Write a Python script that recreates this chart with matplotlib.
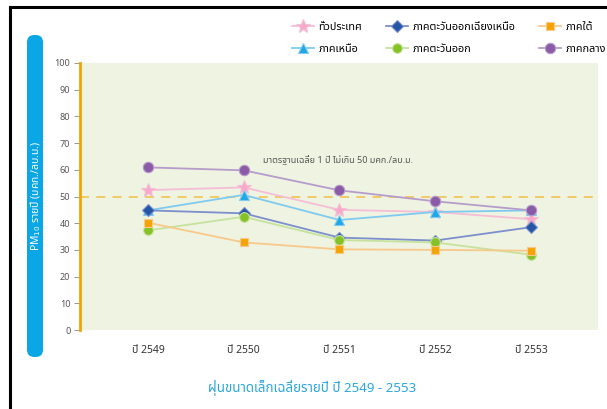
import numpy as np
import matplotlib
matplotlib.use('Agg')
import matplotlib.pyplot as plt
from matplotlib.patches import FancyBboxPatch
from matplotlib.lines import Line2D

plt.rcParams['font.family'] = ['Noto Sans Thai', 'DejaVu Sans']

years = ['ปี 2549', 'ปี 2550', 'ปี 2551', 'ปี 2552', 'ปี 2553']

# PM10 รายปี (มคก./ลบ.ม.)
whole_country = [52.4, 53.4, 45.0, 44.2, 41.5]
north = [44.8, 50.6, 41.2, 44.2, 44.8]
northeast = [44.8, 43.7, 34.6, 33.5, 38.5]
east = [37.3, 42.4, 33.7, 32.8, 28.2]
south = [40.2, 32.8, 30.2, 30.0, 29.7]
central = [60.9, 59.8, 52.3, 48.2, 44.8]

labels = ['ทั่วประเทศ', 'ภาคเหนือ', 'ภาคตะวันออกเฉียงเหนือ',
          'ภาคตะวันออก', 'ภาคใต้', 'ภาคกลาง']
standard = 50

series = [whole_country, north, northeast, east, south, central]
markers = ['*', '^', 'D', 'o', 's', 'o']
marker_colors = ['#f7a9c9', '#1fa8e6', '#2456a6', '#84c225', '#f4a300', '#8b5ba8']
line_colors = ['#f6bdd6', '#7fcaf0', '#7c8fcc', '#c6e29e', '#f7c98a', '#b59ccb']
marker_sizes = [10, 7, 6, 7, 6, 7.5]

fig = plt.figure(figsize=(6.07, 4.09), dpi=100)
ax = fig.add_axes([80/607, 1 - 330/409, 518/607, 267/409])
ax.set_facecolor('#eff3e1')

x = np.arange(len(years))
for vals, m, mc, lc, ms, lab in zip(series, markers, marker_colors, line_colors, marker_sizes, labels):
    ax.plot(x, vals, color=lc, lw=1.3, marker=m, markersize=ms,
            markerfacecolor=mc, markeredgecolor=lc, markeredgewidth=0.8, label=lab)

ax.axhline(standard, color='#f2c65e', lw=1.3, ls=(0, (5, 4)), zorder=0.5)
ax.text(1.98, 63.5, 'มาตรฐานเฉลี่ย 1 ปี ไม่เกิน 50 มคก./ลบ.ม.', ha='center', va='center',
        fontsize=6.5, color='#555555')

ax.set_xlim(-0.71, 4.70)
ax.set_ylim(0, 100)
ax.set_yticks(np.arange(0, 101, 10))
ax.set_xticks(x)
ax.set_xticklabels(years, fontsize=7.5, color='#333333')
ax.tick_params(axis='x', length=0, pad=11)
ax.tick_params(axis='y', length=4, width=0.6, color='#888888', labelsize=6.5, labelcolor='#555555', pad=3)
for s in ['top', 'right', 'bottom']:
    ax.spines[s].set_visible(False)
ax.spines['left'].set_color('#f0a500')
ax.spines['left'].set_linewidth(2)

fig.legend(loc='upper left', bbox_to_anchor=(292/607, 1 - 22/409), ncol=3, frameon=False,
           fontsize=7.8, handlelength=2.0, columnspacing=2.2, handletextpad=0.45,
           labelspacing=1.0, borderaxespad=0, borderpad=0)

# blue side bar with the y label
bar = FancyBboxPatch((27/607, 1 - 357/409), 16/607, 322/409,
                     boxstyle='round,pad=0,rounding_size=0.012', transform=fig.transFigure,
                     facecolor='#0aa6e6', edgecolor='none', mutation_aspect=607/409)
fig.patches.append(bar)
fig.text(35.5/607, 1 - 196/409, 'PM$_{10}$ รายปี (มคก./ลบ.ม.)', rotation=90, ha='center', va='center',
         color='white', fontsize=7.5)

fig.text(312/607, 1 - 388/409, 'ฝุ่นขนาดเล็กเฉลี่ยรายปี ปี 2549 - 2553', ha='center', va='center',
         color='#2ba6df', fontsize=9.6)

# frame lines
fig.add_artist(Line2D([10/607, 1], [1 - 7/409, 1 - 7/409], color='black', lw=2.2, transform=fig.transFigure))
fig.add_artist(Line2D([10/607, 10/607], [0, 1 - 7/409], color='black', lw=2.2, transform=fig.transFigure))

fig.savefig('out.png', dpi=100)
